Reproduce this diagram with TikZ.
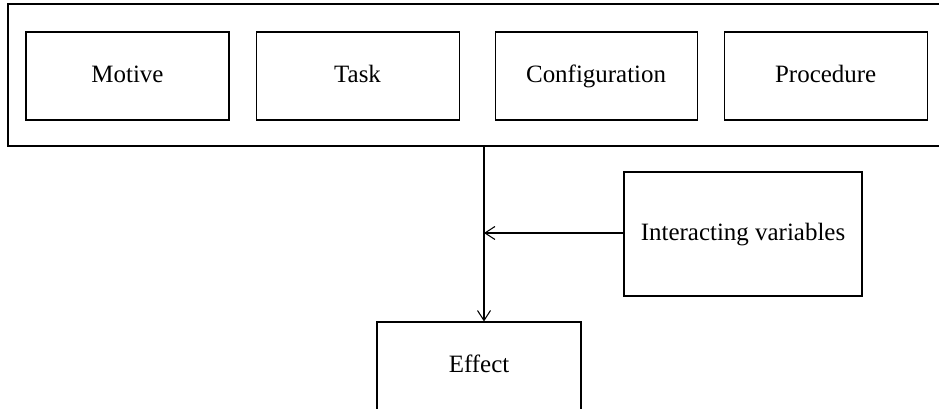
\documentclass[tikz,border=0pt]{standalone}
\usepackage{fontspec}
\setmainfont{Liberation Serif}
\usepackage{tikz}
\usetikzlibrary{arrows.meta,positioning}
\tikzset{
  box/.style={rectangle, draw, minimum width=4.06cm, minimum height=1.76cm,
              align=center, inner sep=0pt, text height=2.1ex, text depth=0.45ex,
              font=\fontsize{14.2}{17}\selectfont},
  frame/.style={rectangle, draw, inner sep=0pt},
  arr/.style={-{Straight Barb[length=2mm, width=2.6mm]}, line width=0.6pt}
}

\begin{document}
\begin{tikzpicture}[line width=0.6pt, node distance=0.52cm]
  \useasboundingbox (0,0) rectangle (18.78,-8.18);
  \clip (0,0) rectangle (18.78,-8.18);
  \node[frame, minimum width=18.8cm, minimum height=2.84cm] (outer) at (9.56,-1.50) {};
  \node[box] (motive) at (2.55,-1.52) {Motive};
  \node[box, right=of motive] (task) {Task};
  \node[box, right=0.70cm of task, minimum width=4.04cm] (config) {Configuration};
  \node[box, right=of config] (proc) {Procedure};
  \node[box, minimum width=4.76cm, minimum height=2.48cm] (inter) at (14.86,-4.68) {Interacting variables};
  \node[box, minimum width=4.08cm] (effect) at (9.58,-7.32) {Effect};
  \coordinate (join) at (9.68,-4.66);
  \draw[arr] (outer.south -| join) -- (effect.north -| join);
  \draw[arr] (inter.west |- join) -- (join);
\end{tikzpicture}
\end{document}
